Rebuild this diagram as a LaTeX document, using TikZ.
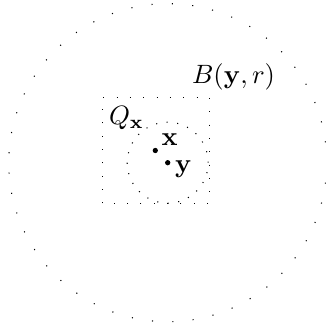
\documentclass[tikz,border=0pt]{standalone}
\begin{document}
\begin{tikzpicture}[x=0.37736pt,y=0.37736pt,
  sqdots/.style={line width=0.4pt,dash pattern=on 0.4pt off 4.63pt},
  bigdots/.style={line width=0.4pt,dash pattern=on 0.4pt off 7.29pt},
  smalldots/.style={line width=0.4pt,dash pattern=on 0.4pt off 3.6pt},
  pt/.style={circle,fill=black,inner sep=0pt,minimum size=2pt},
  lbl/.style={inner sep=0pt,anchor=base west}]
\useasboundingbox (0,0) rectangle (326,326);
\coordinate (y) at (167.7,163.3);
\coordinate (x) at (155.3,175.5);
\draw[bigdots] (y) circle [radius=159];
\draw[smalldots] (y) circle [radius=40.5];
\draw[sqdots] (102.7,122.7) rectangle (209.3,228.7);
\node[pt] (py) at (y) {};
\node[pt] (px) at (x) {};
\node[lbl] (lx) at (161.0,180) {$\mathbf{x}$};
\node[lbl] (ly) at (174.5,153.2) {$\mathbf{y}$};
\node[lbl] (lq) at (108.5,201) {$Q_{\mathbf{x}}$};
\node[lbl] (lb) at (191.5,242.3) {$B(\mathbf{y},r)$};
\end{tikzpicture}
\end{document}
